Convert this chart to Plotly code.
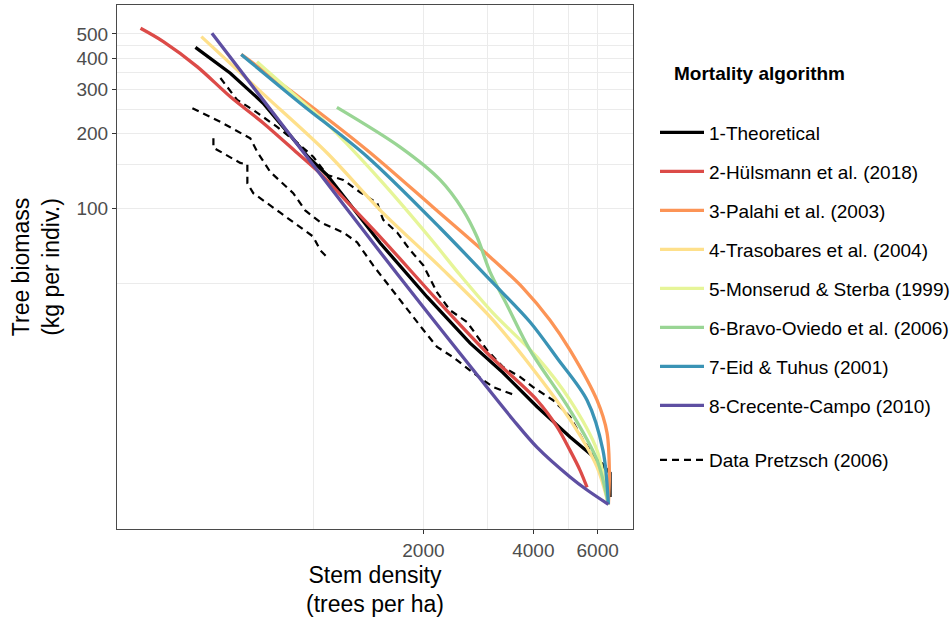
import plotly.graph_objects as go

# Stem density (trees per ha) and tree biomass (kg per indiv.)
theo_x = [475, 592, 728, 966, 1090, 1522, 2047, 2684, 3304, 4095, 5041, 5902, 6486, 6486]
theo_y = [442, 348, 264, 161, 136, 72.6, 44.1, 28.8, 21.9, 16.0, 12.1, 9.97, 8.69, 6.96]

hul_x = [336, 388, 480, 592, 728, 901, 1043, 1260, 1551, 2180, 2988, 4095, 4645, 5041, 5370, 5612]
hul_y = [527, 466, 370, 280, 220, 167, 138, 103, 74.6, 42.9, 26.3, 17.0, 13.3, 10.7, 8.9, 7.6]

pal_x = [634, 920, 1403, 2126, 3045, 3749, 4444, 5041, 5975, 6364, 6460, 6420]
pal_y = [414, 277, 171, 101, 63.8, 47.9, 35.6, 27.0, 17.0, 12.6, 8.6, 6.5]

tra_x = [493, 733, 1088, 1522, 2222, 3045, 3917, 5041, 5975, 6420]
tra_y = [488, 285, 167, 98.4, 58.2, 36.7, 23.5, 14.2, 9.18, 6.5]

mon_x = [700, 920, 1111, 1522, 2086, 2521, 3103, 4095, 5041, 5975, 6420]
mon_y = [387, 272, 212, 130, 76.0, 54.0, 38.0, 25.3, 17.0, 10.7, 6.5]

bra_x = [1159, 1727, 2222, 2568, 2805, 3045, 3389, 3917, 5041, 5975, 6420]
bra_y = [254, 176, 130, 98.4, 76.7, 55.5, 40.9, 27.0, 15.5, 9.79, 6.5]

eid_x = [634, 920, 1403, 2222, 3045, 3917, 4645, 5612, 6204, 6420]
eid_y = [414, 264, 161, 83.4, 51.6, 35.0, 25.1, 17.0, 10.7, 6.5]

cre_x = [527, 710, 959, 1522, 2086, 2684, 3520, 4095, 5041, 5612, 6420]
cre_y = [503, 285, 161, 66.8, 37.1, 23.3, 14.2, 11.0, 8.37, 7.42, 6.5]

# Observed plot trajectories (Pretzsch 2006)
obs1_x = [556, 618, 684, 795, 903, 998, 1090, 1206, 1342, 1494, 1551, 1694, 1839, 2000,
          2180, 2366, 2634, 2988, 3304, 3678, 3993, 4529, 5041, 5472, 5975, 6364]
obs1_y = [333, 272, 248, 212, 183, 161, 136, 130, 116, 105, 90, 80, 68, 59,
          46, 39, 35, 27, 23.1, 21.1, 19.2, 17, 14.6, 11.8, 9.8, 9.2]
obs2_x = [466, 556, 671, 702, 761, 880, 949, 1043, 1206, 1317, 1457, 1591, 1694, 2000,
          2180, 2411, 2735, 3103, 3565]
obs2_y = [252, 222, 191, 168, 140, 115, 98, 88, 80, 73, 59, 50, 44, 32.5,
          27.8, 25.3, 21.9, 19.2, 17.8]
obs3_x = [532, 532, 630, 659, 659, 684, 811, 903, 998, 1043, 1097]
obs3_y = [191, 175, 152, 150, 126, 115, 96, 86, 77, 68, 63]

series = [
    ("1-Theoretical", theo_x, theo_y, "#000000"),
    ("2-Hülsmann et al. (2018)", hul_x, hul_y, "#DC4B48"),
    ("3-Palahi et al. (2003)", pal_x, pal_y, "#FC9456"),
    ("4-Trasobares et al. (2004)", tra_x, tra_y, "#FEE08B"),
    ("5-Monserud & Sterba (1999)", mon_x, mon_y, "#E6F598"),
    ("6-Bravo-Oviedo et al. (2006)", bra_x, bra_y, "#99D594"),
    ("7-Eid & Tuhus (2001)", eid_x, eid_y, "#3A93B5"),
    ("8-Crecente-Campo (2010)", cre_x, cre_y, "#5E4FA2"),
]

FONT = "Liberation Sans, Arial, sans-serif"
fig = go.Figure()

obs_x = obs1_x + [None] + obs2_x + [None] + obs3_x
obs_y = obs1_y + [None] + obs2_y + [None] + obs3_y
fig.add_trace(go.Scatter(x=obs_x, y=obs_y, mode="lines", name="Data Pretzsch (2006)",
                         line=dict(color="black", width=2.2, dash="7px,5px"),
                         connectgaps=False, legend="legend2"))

for i, (name, xs, ys, col) in enumerate(series):
    shape = "linear" if i == 0 else "spline"
    fig.add_trace(go.Scatter(x=xs, y=ys, mode="lines", name=name,
                             line=dict(color=col, width=3.3, shape=shape, smoothing=0.9),
                             legendgroup=f"g{i}", legendrank=i + 1))

grid = "#EBEBEB"
fig.update_xaxes(type="log", range=[2.4619, 3.8749],
                 tickvals=[2000, 4000, 6000], ticktext=["2000", "4000", "6000"],
                 showgrid=True, gridcolor=grid, gridwidth=1.4,
                 minor=dict(tickvals=[1000, 3000, 5000], showgrid=True, gridcolor=grid,
                            gridwidth=0.8, ticks=""),
                 ticks="outside", ticklen=4, tickcolor="#333333", tickwidth=1,
                 tickfont=dict(size=19, color="#4D4D4D", family=FONT),
                 showline=True, mirror=True, linecolor="#4A4A4A", linewidth=1.2,
                 zeroline=False,
                 title=dict(text="Stem density<br>(trees per ha)",
                            font=dict(size=23, color="black", family=FONT), standoff=6))
fig.update_yaxes(type="log", range=[0.7141, 2.8152],
                 tickvals=[100, 200, 300, 400, 500],
                 showgrid=True, gridcolor=grid, gridwidth=1.4,
                 minor=dict(tickvals=[50, 150, 250, 350, 450], showgrid=True, gridcolor=grid,
                            gridwidth=0.8, ticks=""),
                 ticks="outside", ticklen=4, tickcolor="#333333", tickwidth=1,
                 tickfont=dict(size=19, color="#4D4D4D", family=FONT),
                 showline=True, mirror=True, linecolor="#4A4A4A", linewidth=1.2,
                 zeroline=False,
                 title=dict(text="Tree biomass<br>(kg per indiv.)",
                            font=dict(size=23, color="black", family=FONT), standoff=10))

fig.add_annotation(text="<b>Mortality algorithm</b>", xref="paper", yref="paper",
                   x=(672 - 117) / 516, y=(529 - 73) / 524, xanchor="left", yanchor="middle",
                   showarrow=False, font=dict(size=19, color="black", family=FONT))

fig.update_layout(
    width=952, height=621,
    margin=dict(l=117, r=319, t=5, b=92, autoexpand=False),
    paper_bgcolor="white", plot_bgcolor="white",
    font=dict(family=FONT),
    legend=dict(x=655 / 952, y=1 - 113.5 / 621, xref="container", yref="container",
                xanchor="left", yanchor="top",
                font=dict(size=19, color="black", family=FONT), itemwidth=44,
                tracegroupgap=11.3, bgcolor="rgba(0,0,0,0)", traceorder="grouped"),
    legend2=dict(x=655 / 952, y=1 - 441 / 621, xref="container", yref="container",
                 xanchor="left", yanchor="top",
                 font=dict(size=19, color="black", family=FONT), itemwidth=44,
                 bgcolor="rgba(0,0,0,0)"),
)

fig.write_html("out.html")
